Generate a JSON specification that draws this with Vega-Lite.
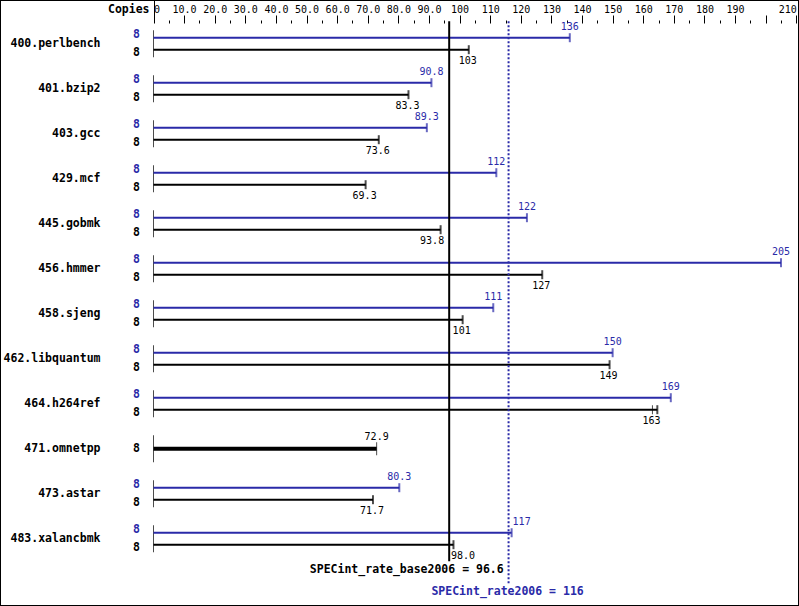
{
  "$schema": "https://vega.github.io/schema/vega-lite/v6.json",
  "width": 799,
  "height": 606,
  "autosize": {"type": "none"},
  "padding": 0,
  "background": "white",
  "config": {
    "view": {"stroke": "black", "strokeWidth": 2},
    "font": "DejaVu Sans Mono"
  },
  "resolve": {"axis": {"x": "independent", "y": "independent"}},
  "datasets": {
    "bars": [
      {"bench": "400.perlbench", "type": "peak", "value": 136, "max": 136, "copies": 8},
      {"bench": "400.perlbench", "type": "base", "value": 103, "max": 103, "copies": 8},
      {"bench": "401.bzip2", "type": "peak", "value": 90.8, "max": 90.8, "copies": 8},
      {"bench": "401.bzip2", "type": "base", "value": 83.3, "max": 83.3, "copies": 8},
      {"bench": "403.gcc", "type": "peak", "value": 89.3, "max": 89.3, "copies": 8},
      {"bench": "403.gcc", "type": "base", "value": 73.6, "max": 73.6, "copies": 8},
      {"bench": "429.mcf", "type": "peak", "value": 112, "max": 112, "copies": 8},
      {"bench": "429.mcf", "type": "base", "value": 69.3, "max": 69.3, "copies": 8},
      {"bench": "445.gobmk", "type": "peak", "value": 122, "max": 122, "copies": 8},
      {"bench": "445.gobmk", "type": "base", "value": 93.8, "max": 93.8, "copies": 8},
      {"bench": "456.hmmer", "type": "peak", "value": 205, "max": 205, "copies": 8},
      {"bench": "456.hmmer", "type": "base", "value": 127, "max": 127, "copies": 8},
      {"bench": "458.sjeng", "type": "peak", "value": 111, "max": 111, "copies": 8},
      {"bench": "458.sjeng", "type": "base", "value": 101, "max": 101, "copies": 8},
      {"bench": "462.libquantum", "type": "peak", "value": 150, "max": 150, "copies": 8},
      {"bench": "462.libquantum", "type": "base", "value": 149, "max": 149, "copies": 8},
      {"bench": "464.h264ref", "type": "peak", "value": 169, "max": 169, "copies": 8},
      {"bench": "464.h264ref", "type": "base", "value": 163, "max": 164.6, "copies": 8},
      {"bench": "471.omnetpp", "type": "both", "value": 72.9, "max": 72.9, "copies": 8},
      {"bench": "473.astar", "type": "peak", "value": 80.3, "max": 80.3, "copies": 8},
      {"bench": "473.astar", "type": "base", "value": 71.7, "max": 71.7, "copies": 8},
      {"bench": "483.xalancbmk", "type": "peak", "value": 117, "max": 117, "copies": 8},
      {"bench": "483.xalancbmk", "type": "base", "value": 98.0, "max": 98.0, "copies": 8}
    ],
    "refs": [
      {"metric": "base", "value": 96.6, "first": "400.perlbench", "last": "483.xalancbmk", "label": "SPECint_rate_base2006 = 96.6"},
      {"metric": "peak", "value": 116, "first": "400.perlbench", "last": "483.xalancbmk", "label": "SPECint_rate2006 = 116"}
    ]
  },
  "layer": [
    {
      "data": {"name": "bars"},
      "transform": [{"filter": "datum.type != 'peak'"}],
      "mark": {"type": "tick", "orient": "vertical", "size": 27, "thickness": 1, "color": "black"},
      "encoding": {
        "x": {
          "datum": 0,
          "type": "quantitative",
          "scale": {"domain": [0, 210], "range": [153.5, 796.3], "nice": false, "zero": false},
          "axis": {
            "orient": "top",
            "offset": -23,
            "domain": false,
            "grid": false,
            "values": [0,5,10,15,20,25,30,35,40,45,50,55,60,65,70,75,80,85,90,95,100,105,110,115,120,125,130,135,140,145,150,155,160,165,170,175,180,185,190,195,200,205,210],
            "tickColor": "black",
            "tickWidth": 1,
            "tickSize": {"condition": [{"test": "datum.value == 0", "value": 23}, {"test": "datum.value % 10 == 0", "value": 8}], "value": 3},
            "labelExpr": "datum.value == 0 ? '0' : (datum.value % 10 != 0 || datum.value == 200) ? '' : (datum.value < 100 ? format(datum.value, '.1f') : format(datum.value, 'd'))",
            "labelFlush": true,
            "labelOverlap": false,
            "labelBound": false,
            "labelFont": "DejaVu Sans Mono",
            "labelFontSize": 10,
            "labelColor": "black",
            "labelPadding": {"condition": {"test": "datum.value == 0", "value": -12}, "value": 3},
            "labelBaseline": "alphabetic",
            "title": "Copies",
            "titleFont": "DejaVu Sans Mono",
            "titleFontWeight": "bold",
            "titleFontSize": 11.5,
            "titleColor": "black",
            "titleX": 149,
            "titleY": -14,
            "titleAlign": "right",
            "titleBaseline": "middle"
          }
        },
        "y": {
          "field": "bench",
          "type": "nominal",
          "sort": null,
          "scale": {
            "type": "band",
            "domain": ["400.perlbench", "401.bzip2", "403.gcc", "429.mcf", "445.gobmk", "456.hmmer", "458.sjeng", "462.libquantum", "464.h264ref", "471.omnetpp", "473.astar", "483.xalancbmk"],
            "range": [21.2, 561.2],
            "paddingInner": 0,
            "paddingOuter": 0
          },
          "axis": {
            "orient": "left",
            "title": null,
            "domain": false,
            "ticks": false,
            "tickSize": 0,
            "labelPadding": 0,
            "offset": -100,
            "labelFont": "DejaVu Sans Mono",
            "labelFontWeight": "bold",
            "labelFontSize": 11.5,
            "labelColor": "black",
            "labelAlign": "right",
            "labelBaseline": "middle"
          }
        }
      }
    },
    {
      "data": {"name": "bars"},
      "transform": [{"filter": "datum.type == 'peak'"}],
      "mark": {"type": "rule", "color": "#2a2aa8", "strokeWidth": 2, "yOffset": -6},
      "encoding": {
        "x": {"field": "max", "type": "quantitative", "axis": null},
        "x2": {"datum": 0},
        "y": {"field": "bench", "type": "nominal", "axis": null}
      }
    },
    {
      "data": {"name": "bars"},
      "transform": [{"filter": "datum.type == 'peak'"}],
      "mark": {"type": "tick", "orient": "vertical", "size": 9, "thickness": 2, "color": "#2a2aa8", "yOffset": -6},
      "encoding": {
        "x": {"field": "max", "type": "quantitative", "axis": null},
        "y": {"field": "bench", "type": "nominal", "axis": null}
      }
    },
    {
      "data": {"name": "bars"},
      "transform": [{"filter": "datum.type == 'peak'"}],
      "mark": {"type": "text", "color": "#2a2aa8", "font": "DejaVu Sans Mono", "fontSize": 10, "dy": -17, "baseline": "middle", "align": "center", "dx": {"expr": "datum.value > 112 && datum.value < 120 ? 10 : 0"}},
      "encoding": {
        "x": {"field": "value", "type": "quantitative", "axis": null},
        "y": {"field": "bench", "type": "nominal", "axis": null},
        "text": {"field": "value", "type": "quantitative", "format": ".3r"}
      }
    },
    {
      "data": {"name": "bars"},
      "transform": [{"filter": "datum.type == 'peak'"}],
      "mark": {"type": "text", "color": "#2a2aa8", "font": "DejaVu Sans Mono", "fontSize": 11.5, "fontWeight": "bold", "dy": -9, "dx": -13.5, "baseline": "middle", "align": "right"},
      "encoding": {
        "x": {"datum": 0, "type": "quantitative", "axis": null},
        "y": {"field": "bench", "type": "nominal", "axis": null},
        "text": {"field": "copies", "type": "quantitative"}
      }
    },
    {
      "data": {"name": "bars"},
      "transform": [{"filter": "datum.type == 'base'"}],
      "mark": {"type": "rule", "color": "black", "strokeWidth": 2, "yOffset": 6},
      "encoding": {
        "x": {"field": "max", "type": "quantitative", "axis": null},
        "x2": {"datum": 0},
        "y": {"field": "bench", "type": "nominal", "axis": null}
      }
    },
    {
      "data": {"name": "bars"},
      "transform": [{"filter": "datum.type == 'base'"}],
      "mark": {"type": "tick", "orient": "vertical", "size": 9, "thickness": 2, "color": "black", "yOffset": 6},
      "encoding": {
        "x": {"field": "max", "type": "quantitative", "axis": null},
        "y": {"field": "bench", "type": "nominal", "axis": null}
      }
    },
    {
      "data": {"name": "bars"},
      "transform": [{"filter": "datum.type == 'base' && datum.value != datum.max"}],
      "mark": {"type": "tick", "orient": "vertical", "size": 9, "thickness": 1, "color": "black", "yOffset": 6},
      "encoding": {
        "x": {"field": "value", "type": "quantitative", "axis": null},
        "y": {"field": "bench", "type": "nominal", "axis": null}
      }
    },
    {
      "data": {"name": "bars"},
      "transform": [{"filter": "datum.type == 'base'"}],
      "mark": {"type": "text", "color": "black", "font": "DejaVu Sans Mono", "fontSize": 10, "dy": 17.5, "baseline": "middle", "align": "center", "dx": {"expr": "datum.value > 90 && datum.value < 96.6 ? -8.5 : (datum.value >= 96.6 && datum.value < 100 ? 9.5 : -1)"}},
      "encoding": {
        "x": {"field": "value", "type": "quantitative", "axis": null},
        "y": {"field": "bench", "type": "nominal", "axis": null},
        "text": {"field": "value", "type": "quantitative", "format": ".3r"}
      }
    },
    {
      "data": {"name": "bars"},
      "transform": [{"filter": "datum.type == 'base'"}],
      "mark": {"type": "text", "color": "black", "font": "DejaVu Sans Mono", "fontSize": 11.5, "fontWeight": "bold", "dy": 9.5, "dx": -13.5, "baseline": "middle", "align": "right"},
      "encoding": {
        "x": {"datum": 0, "type": "quantitative", "axis": null},
        "y": {"field": "bench", "type": "nominal", "axis": null},
        "text": {"field": "copies", "type": "quantitative"}
      }
    },
    {
      "data": {"name": "bars"},
      "transform": [{"filter": "datum.type == 'both'"}],
      "mark": {"type": "rule", "color": "black", "strokeWidth": 4},
      "encoding": {
        "x": {"field": "max", "type": "quantitative", "axis": null},
        "x2": {"datum": 0},
        "y": {"field": "bench", "type": "nominal", "axis": null}
      }
    },
    {
      "data": {"name": "bars"},
      "transform": [{"filter": "datum.type == 'both'"}],
      "mark": {"type": "tick", "orient": "vertical", "size": 13, "thickness": 1, "color": "black"},
      "encoding": {
        "x": {"field": "max", "type": "quantitative", "axis": null},
        "y": {"field": "bench", "type": "nominal", "axis": null}
      }
    },
    {
      "data": {"name": "bars"},
      "transform": [{"filter": "datum.type == 'both'"}],
      "mark": {"type": "text", "color": "black", "font": "DejaVu Sans Mono", "fontSize": 10, "dy": -12, "baseline": "middle", "align": "center"},
      "encoding": {
        "x": {"field": "value", "type": "quantitative", "axis": null},
        "y": {"field": "bench", "type": "nominal", "axis": null},
        "text": {"field": "value", "type": "quantitative", "format": ".3r"}
      }
    },
    {
      "data": {"name": "bars"},
      "transform": [{"filter": "datum.type == 'both'"}],
      "mark": {"type": "text", "color": "black", "font": "DejaVu Sans Mono", "fontSize": 11.5, "fontWeight": "bold", "dx": -13.5, "baseline": "middle", "align": "right"},
      "encoding": {
        "x": {"datum": 0, "type": "quantitative", "axis": null},
        "y": {"field": "bench", "type": "nominal", "axis": null},
        "text": {"field": "copies", "type": "quantitative"}
      }
    },
    {
      "data": {"name": "refs"},
      "transform": [{"filter": "datum.metric == 'base'"}],
      "mark": {"type": "rule", "color": "black", "strokeWidth": 2, "y2Offset": 22.5, "yOffset": -22.5},
      "encoding": {
        "x": {"field": "value", "type": "quantitative", "axis": null},
        "y": {"field": "first", "type": "nominal", "axis": null},
        "y2": {"field": "last"}
      }
    },
    {
      "data": {"name": "refs"},
      "transform": [{"filter": "datum.metric == 'peak'"}],
      "mark": {"type": "rule", "color": "#2a2aa8", "strokeWidth": 2, "strokeDash": [2, 2], "y2Offset": 44.5, "yOffset": -22.5},
      "encoding": {
        "x": {"field": "value", "type": "quantitative", "axis": null},
        "y": {"field": "first", "type": "nominal", "axis": null},
        "y2": {"field": "last"}
      }
    },
    {
      "data": {"name": "refs"},
      "transform": [{"filter": "datum.metric == 'base'"}],
      "mark": {"type": "text", "color": "black", "font": "DejaVu Sans Mono", "fontSize": 11.5, "fontWeight": "bold", "align": "right", "baseline": "middle", "dx": 54.5, "dy": 31.5},
      "encoding": {
        "x": {"field": "value", "type": "quantitative", "axis": null},
        "y": {"field": "last", "type": "nominal", "axis": null},
        "text": {"field": "label"}
      }
    },
    {
      "data": {"name": "refs"},
      "transform": [{"filter": "datum.metric == 'peak'"}],
      "mark": {"type": "text", "color": "#2a2aa8", "font": "DejaVu Sans Mono", "fontSize": 11.5, "fontWeight": "bold", "align": "center", "baseline": "middle", "dx": -1, "dy": 53.5},
      "encoding": {
        "x": {"field": "value", "type": "quantitative", "axis": null},
        "y": {"field": "last", "type": "nominal", "axis": null},
        "text": {"field": "label"}
      }
    }
  ]
}
